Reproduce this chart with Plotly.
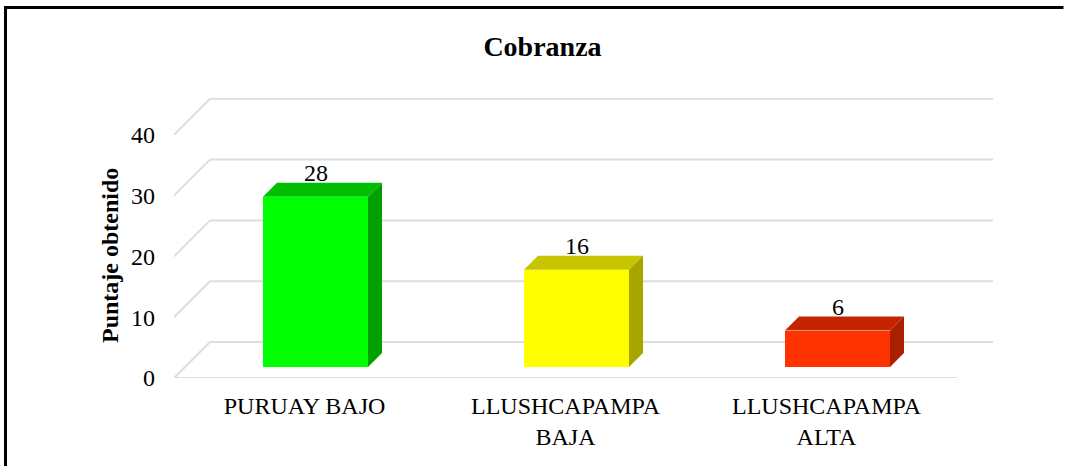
import plotly.graph_objects as go

# ---- data ----
categories = ["PURUAY BAJO", "LLUSHCAPAMPA<br>BAJA", "LLUSHCAPAMPA<br>ALTA"]
values = [28, 16, 6]
tick_values = [0, 10, 20, 30, 40]
front_colors = ["#00FF00", "#FFFF00", "#FF3300"]
top_colors = ["#00BE00", "#C8C400", "#C42400"]
side_colors = ["#00A000", "#A8A500", "#A82000"]

# ---- geometry (pixels) ----
W, H = 1065, 466
L, R, T, B = 174, 72, 98, 88
PX_CAT = 261.0          # pixels per category
PX_UNIT = 6.08          # pixels per value unit
WALL_DEPTH = 36.0       # depth of the floor in px
BAR_FRONT = 11.0        # bar front depth in px
BAR_DEPTH = 14.0        # bar depth in px
BAR_W = 105.0

plot_w = W - L - R
plot_h = H - T - B
x_range = [-0.5, -0.5 + plot_w / PX_CAT]
y_range = [0, plot_h / PX_UNIT]

def dx(px):
    return px / PX_CAT

def dy(px):
    return px / PX_UNIT

def px_x(px):
    return (px - L) / plot_w

def px_y(py):
    return (H - B - py) / plot_h

FONT = "Liberation Serif, Times New Roman, serif"
GRID = "#DCDEE6"

fig = go.Figure()

n = len(categories)
x_left = -0.5
x_right_front = n - 0.5

# gridlines (back wall + diagonal) as shapes under the bars
for v in tick_values:
    fig.add_shape(type="line", xref="x", yref="y", layer="below",
                  x0=x_left, y0=v, x1=x_left + dx(WALL_DEPTH), y1=v + dy(WALL_DEPTH),
                  line=dict(color=GRID, width=2))
    fig.add_shape(type="line", xref="x", yref="y", layer="below",
                  x0=x_left + dx(WALL_DEPTH), y0=v + dy(WALL_DEPTH),
                  x1=x_range[1], y1=v + dy(WALL_DEPTH),
                  line=dict(color=GRID, width=2))
# front floor edge
fig.add_shape(type="line", xref="x", yref="y", layer="below",
              x0=x_left, y0=0, x1=x_right_front, y1=0,
              line=dict(color=GRID, width=2))

# bars: front face
xc = [i + dx(BAR_FRONT) for i in range(n)]
base = dy(BAR_FRONT)
fig.add_trace(go.Bar(
    x=xc, y=values, base=[base] * n, width=dx(BAR_W),
    marker=dict(color=front_colors, line=dict(width=0)),
    hoverinfo="skip", showlegend=False))

# top and side faces
for i, v in enumerate(values):
    xl = xc[i] - dx(BAR_W) / 2
    xr = xc[i] + dx(BAR_W) / 2
    ddx, ddy = dx(BAR_DEPTH), dy(BAR_DEPTH)
    top = v + base
    fig.add_trace(go.Scatter(
        x=[xl, xr, xr + ddx, xl + ddx, xl],
        y=[top, top, top + ddy, top + ddy, top],
        fill="toself", fillcolor=top_colors[i], mode="lines",
        line=dict(width=0, color=top_colors[i]),
        hoverinfo="skip", showlegend=False))
    fig.add_trace(go.Scatter(
        x=[xr, xr + ddx, xr + ddx, xr, xr],
        y=[base, base + ddy, top + ddy, top, base],
        fill="toself", fillcolor=side_colors[i], mode="lines",
        line=dict(width=0, color=side_colors[i]),
        hoverinfo="skip", showlegend=False))
    fig.add_annotation(
        x=xc[i], y=top + ddy, text=str(v), showarrow=False,
        yanchor="bottom", yshift=-5,
        font=dict(family=FONT, size=24, color="black"))

# y axis title
fig.add_annotation(
    xref="paper", yref="paper",
    x=px_x(110), y=px_y(256),
    xanchor="center", yanchor="middle",
    text="<b>Puntaje obtenido</b>", textangle=-90, showarrow=False,
    font=dict(family=FONT, size=24, color="black"))

# frame: only the left and top edges fall inside the picture
fig.add_shape(type="line", xref="paper", yref="paper",
              x0=px_x(5.5), y0=px_y(6.5), x1=px_x(5.5), y1=px_y(480),
              line=dict(color="black", width=3))
fig.add_shape(type="line", xref="paper", yref="paper",
              x0=px_x(4), y0=px_y(7.5), x1=px_x(1063.5), y1=px_y(7.5),
              line=dict(color="black", width=3))

fig.update_layout(
    width=W, height=H,
    margin=dict(l=L, r=R, t=T, b=B, pad=0),
    paper_bgcolor="white", plot_bgcolor="white",
    title=dict(text="<b>Cobranza</b>", x=542.5 / W, xanchor="center",
               y=1 - 46 / H, yanchor="middle", yref="container",
               font=dict(family=FONT, size=28, color="black")),
    xaxis=dict(range=x_range, tickvals=list(range(n)), ticktext=categories,
               showgrid=False, zeroline=False, showline=False, ticks="",
               tickfont=dict(family=FONT, size=24, color="black"),
               ticklabelstandoff=11, fixedrange=True),
    yaxis=dict(range=y_range, tickvals=tick_values,
               showgrid=False, zeroline=False, showline=False, ticks="",
               tickfont=dict(family=FONT, size=24, color="black"),
               ticklabelstandoff=18, fixedrange=True),
    bargap=0,
)

fig.write_html(
    "out.html",
    config={"displayModeBar": False},
    post_script="document.body.style.margin='0';document.body.style.overflow='hidden';",
)
